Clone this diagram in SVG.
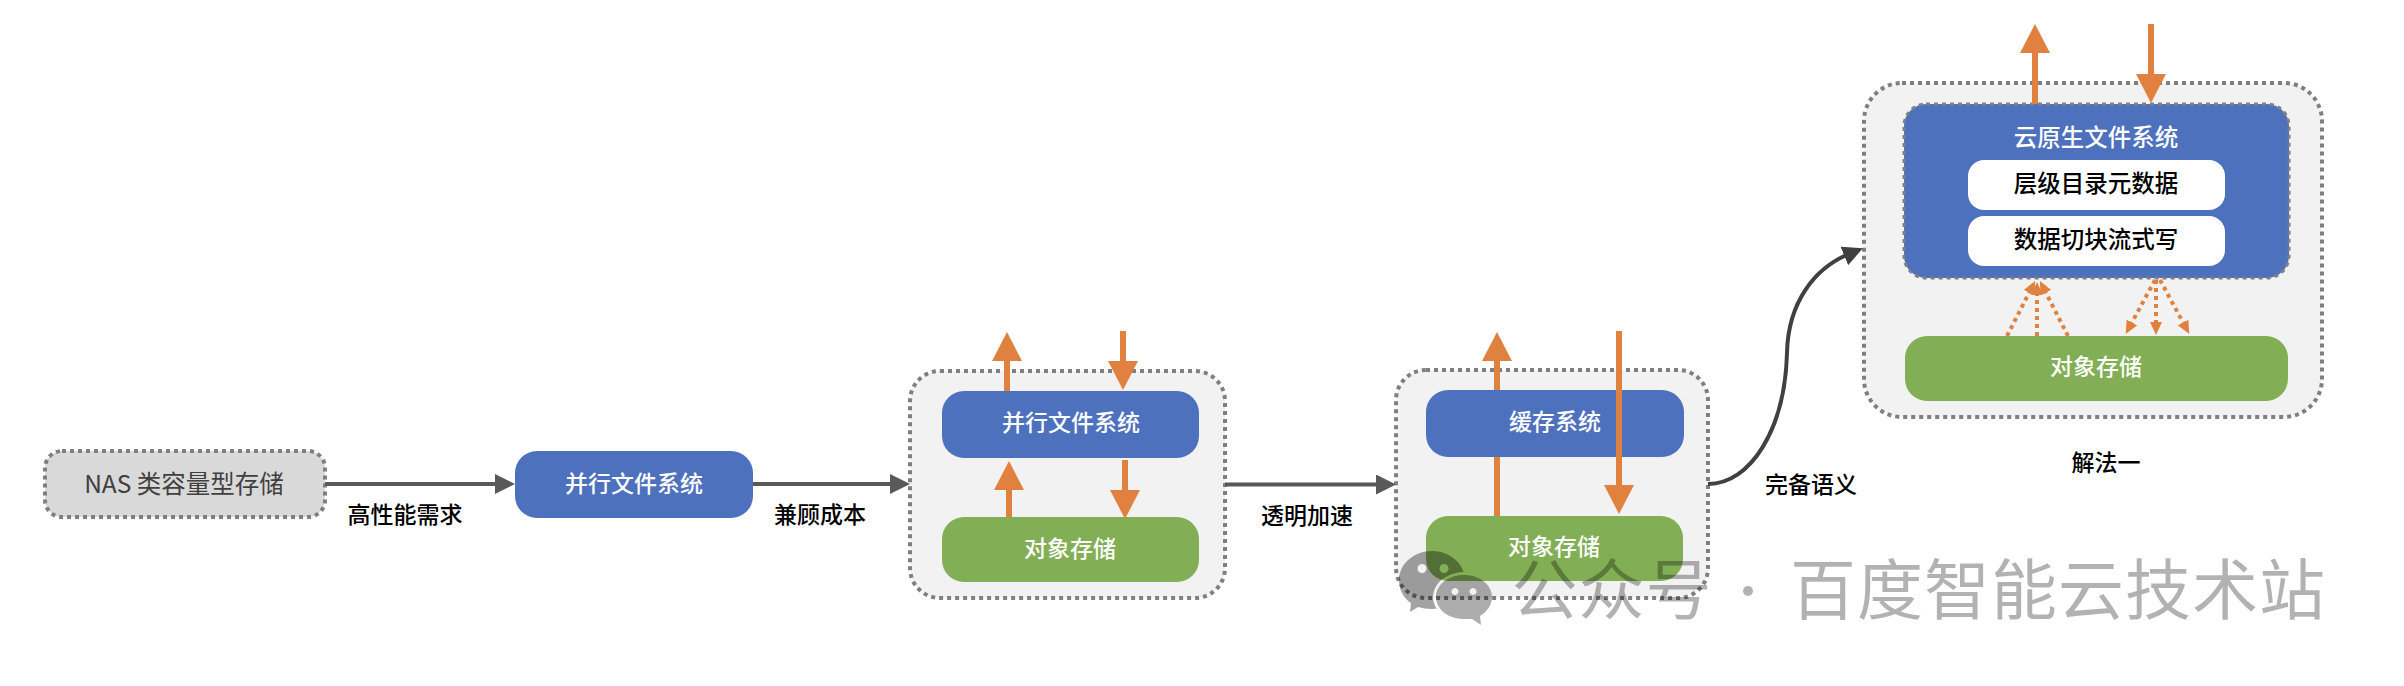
<svg xmlns="http://www.w3.org/2000/svg" width="2404" height="686" viewBox="0 0 2404 686">
  <style>
    text { font-family: "Noto Sans CJK SC", "Liberation Sans", sans-serif; font-size: 23px; font-weight: 500; text-anchor: middle; dominant-baseline: central; }
    .on-fill { fill: #ffffff; }
    .plain { fill: #000000; }
    .frame { fill: #f2f2f2; stroke: #7f7f7f; stroke-width: 4; stroke-dasharray: 4 4; }
    .blue { fill: #4e71be; }
    .green { fill: #82ae55; }
    .flow { fill: none; stroke: #595959; stroke-width: 4; marker-end: url(#headGray); }
    .data { fill: none; stroke: #e0813f; stroke-width: 6; marker-end: url(#headOrange); }
    .tier { fill: none; stroke: #e0813f; stroke-width: 4; stroke-dasharray: 4 4; marker-end: url(#headSmall); }
    .mark { font-size: 66px; font-weight: 400; fill: #000000; fill-opacity: 0.3; }
  </style>
  <defs>
    <marker id="headGray" markerUnits="userSpaceOnUse" markerWidth="20" markerHeight="20" viewBox="0 0 20 20" refX="5" refY="10" orient="auto">
      <path d="M0 0L20 10L0 20Z" fill="#595959"/>
    </marker>
    <marker id="headDark" markerUnits="userSpaceOnUse" markerWidth="20" markerHeight="20" viewBox="0 0 20 20" refX="5" refY="10" orient="auto">
      <path d="M0 0L20 10L0 20Z" fill="#404040"/>
    </marker>
    <marker id="headOrange" markerUnits="userSpaceOnUse" markerWidth="29" markerHeight="30" viewBox="0 0 29 30" refX="9" refY="15" orient="auto">
      <path d="M0 0L29 15L0 30Z" fill="#e0813f"/>
    </marker>
    <marker id="headSmall" markerUnits="userSpaceOnUse" markerWidth="13" markerHeight="12" viewBox="0 0 13 12" refX="4" refY="6" orient="auto">
      <path d="M0 0L13 6L0 12Z" fill="#e0813f"/>
    </marker>
    <mask id="bubbleGap" maskUnits="userSpaceOnUse" x="1380" y="530" width="130" height="110">
      <rect x="1380" y="530" width="130" height="110" fill="#ffffff"/>
      <ellipse cx="1464" cy="597" rx="31" ry="25" fill="#000000"/>
    </mask>
  </defs>

  <g id="nas">
    <rect class="frame" x="45" y="451" width="280" height="66" rx="17" style="fill:#d9d9d9"/>
    <text x="184" y="482" fill="#404040" style="font-size:24.500px;font-weight:400">NAS 类容量型存储</text>
  </g>
  <g id="pfs">
    <rect class="blue" x="515" y="451" width="238" height="67" rx="22"/>
    <text class="on-fill" x="634" y="481.500">并行文件系统</text>
  </g>

  <g id="tiered">
    <rect class="frame" x="910" y="371" width="315" height="227" rx="30"/>
    <g id="tiered-pfs">
      <rect class="blue" x="942" y="391" width="257" height="67" rx="22"/>
      <text class="on-fill" x="1071" y="420.500">并行文件系统</text>
    </g>
    <g id="tiered-object">
      <rect class="green" x="942" y="517" width="257" height="65" rx="22"/>
      <text class="on-fill" x="1070" y="546.500">对象存储</text>
    </g>
  </g>

  <g id="cache">
    <rect class="frame" x="1396" y="370" width="312" height="228" rx="30"/>
    <g id="cache-system">
      <rect class="blue" x="1426" y="390" width="258" height="67" rx="22"/>
      <text class="on-fill" x="1555" y="419.500">缓存系统</text>
    </g>
    <g id="cache-object">
      <rect class="green" x="1426" y="516" width="257" height="65" rx="22"/>
      <text class="on-fill" x="1554" y="544.500">对象存储</text>
    </g>
  </g>

  <g id="cloud-native">
    <rect class="frame" x="1864" y="83" width="458" height="334" rx="38"/>
    <g id="cloud-fs">
      <rect x="1904" y="104" width="385" height="174" rx="22" fill="#4e71be" stroke="#7f7f7f" stroke-width="3" stroke-dasharray="4 4"/>
      <text class="on-fill" x="2096" y="135.500" style="font-size:23.500px">云原生文件系统</text>
      <g id="cloud-metadata">
        <rect x="1968" y="160" width="257" height="50" rx="16" fill="#ffffff"/>
        <text class="plain" x="2096" y="181.500" style="font-size:23.500px">层级目录元数据</text>
      </g>
      <g id="cloud-chunks">
        <rect x="1968" y="216" width="257" height="50" rx="16" fill="#ffffff"/>
        <text class="plain" x="2096" y="237.500" style="font-size:23.500px">数据切块流式写</text>
      </g>
    </g>
    <g id="cloud-object">
      <rect class="green" x="1905" y="336" width="383" height="65" rx="22"/>
      <text class="on-fill" x="2096" y="364.500">对象存储</text>
    </g>
  </g>

  <g id="connectors">
    <path class="flow" d="M325 484H500"/>
    <path class="flow" d="M753 484H895"/>
    <path class="flow" d="M1225 484.500H1381"/>
    <path d="M1708 484C1750 484 1785 430 1787 353C1788 302 1815 268 1849 254" fill="none" stroke="#404040" stroke-width="4" marker-end="url(#headDark)"/>

    <path class="data" d="M1007 391V352"/>
    <path class="data" d="M1123 331V370"/>
    <path class="data" d="M1009 517V481"/>
    <path class="data" d="M1125 460V499"/>

    <path class="data" d="M1497 516V457M1497 390V352"/>
    <path class="data" d="M1619 331V494"/>

    <path class="data" d="M2035 104V44"/>
    <path class="data" d="M2151 24V83"/>

    <path class="tier" d="M2007 336L2031 289"/>
    <path class="tier" d="M2037 336V291"/>
    <path class="tier" d="M2068 336L2044 289"/>
    <path class="tier" d="M2155 280L2130 326"/>
    <path class="tier" d="M2156 280V326"/>
    <path class="tier" d="M2160 280L2185 326"/>
  </g>

  <g id="labels">
    <text class="plain" x="405" y="512.500">高性能需求</text>
    <text class="plain" x="820" y="512.500">兼顾成本</text>
    <text class="plain" x="1307" y="513.500">透明加速</text>
    <text class="plain" x="1811" y="482.500">完备语义</text>
    <text class="plain" x="2106" y="460.500">解法一</text>
  </g>

  <g id="account-mark">
    <path mask="url(#bubbleGap)" fill-rule="evenodd" fill="#000000" fill-opacity="0.36" d="M1432 551C1450 551 1465 564 1465 580C1465 596 1450 609 1432 609C1427 609 1422 608 1418 607L1410 612L1411 603C1403 598 1399 589 1399 580C1399 564 1414 551 1432 551ZM1422 564a4.500 4.500 0 1 0 .01 0ZM1444 564a4.500 4.500 0 1 0 .01 0Z"/>
    <path fill-rule="evenodd" fill="#000000" fill-opacity="0.32" d="M1464 575C1480 575 1492 585 1492 597C1492 605 1487 612 1480 616L1481 625L1472 619C1469 619 1467 619 1464 619C1448 619 1436 609 1436 597C1436 585 1448 575 1464 575ZM1455 588a3.500 3.500 0 1 0 .01 0ZM1473 588a3.500 3.500 0 1 0 .01 0Z"/>
    <text class="mark" x="1612" y="585" letter-spacing="1">公众号</text>
    <circle cx="1748" cy="591" r="5" fill="#000000" fill-opacity="0.3"/>
    <text class="mark" x="2058" y="585" letter-spacing="1">百度智能云技术站</text>
  </g>
</svg>
